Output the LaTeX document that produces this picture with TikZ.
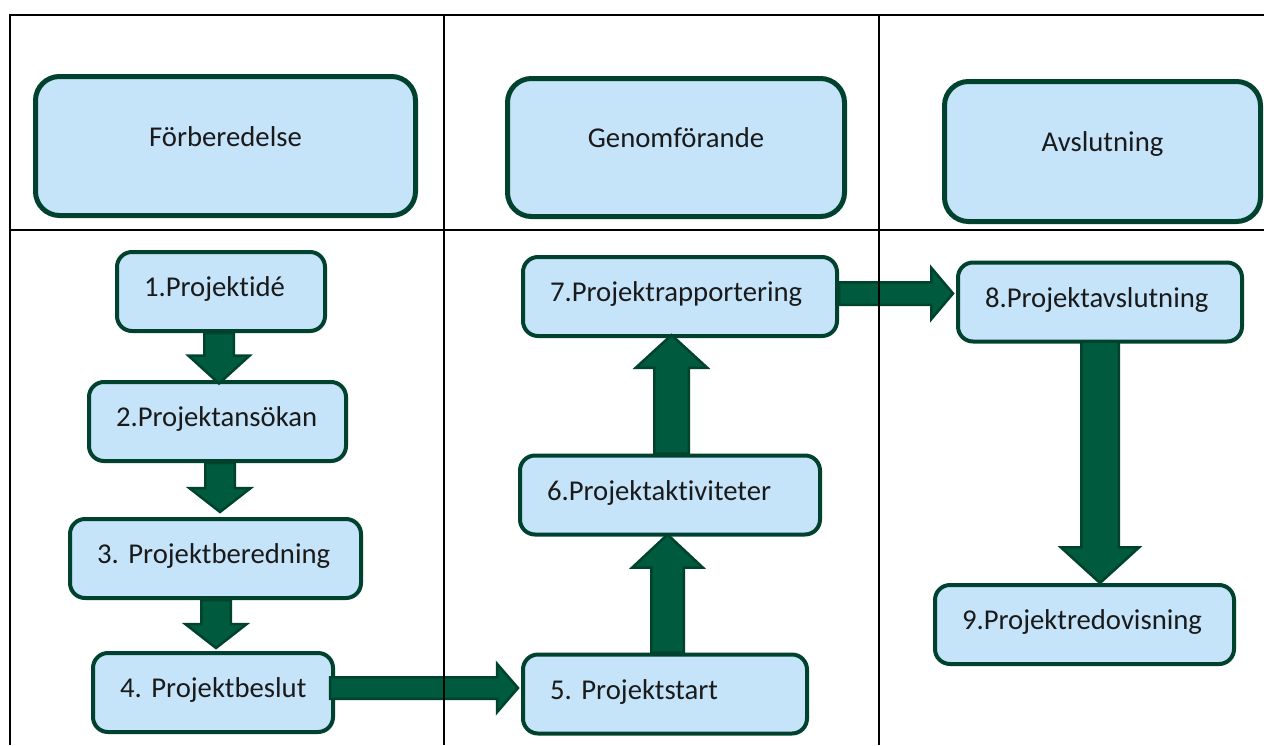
\documentclass[tikz,border=0pt]{standalone}
\usepackage{fontspec}
\setmainfont{Carlito}[Ligatures=NoCommon]
\usetikzlibrary{calc}

\definecolor{boxfill}{HTML}{C5E4F9}
\definecolor{boxline}{HTML}{00422E}
\definecolor{arrowfill}{HTML}{005A3D}
\definecolor{arrowline}{HTML}{00432D}
\definecolor{ink}{HTML}{1A1A1A}

\tikzset{
  txt/.style={font=\fontsize{28.7}{34}\selectfont\frenchspacing, text=ink},
  phase/.style={txt, draw=boxline, fill=boxfill, line width=5pt,
    rounded corners=24pt, inner sep=0pt, text height=10pt, text depth=10pt},
  stepbox/.style={txt, draw=boxline, fill=boxfill, line width=4pt,
    rounded corners=15pt, inner xsep=27pt, inner ysep=0pt, text width=#1,
    align=left, text height=44.5pt, text depth=34.5pt},
  fatarrow/.style={draw=arrowline, fill=arrowfill, line width=2.5pt, line join=miter},
  grid/.style={draw=black, line width=2pt},
}

% block arrow: #1 tail, #2 tip, #3 half shaft width, #4 half head width, #5 head length
\newcommand\blockarrow[5]{%
  \path (#1) coordinate (ba-t) (#2) coordinate (ba-p);
  \path ($(ba-p)!#5!(ba-t)$) coordinate (ba-h);
  \draw[fatarrow] ($(ba-t)!#3!90:(ba-p)$) -- ($(ba-h)!#3!90:(ba-p)$)
    -- ($(ba-h)!#4!90:(ba-p)$) -- (ba-p) -- ($(ba-h)!#4!-90:(ba-p)$)
    -- ($(ba-h)!#3!-90:(ba-p)$) -- ($(ba-t)!#3!-90:(ba-p)$) -- cycle;
}

\begin{document}
\begin{tikzpicture}[x=1pt,y=-1pt]
\useasboundingbox (0,0) rectangle (1264,745);

% phase headings
\node[phase, minimum width=380pt, minimum height=139pt] (h1) at (225.5,146) {Förberedelse};
\node[phase, minimum width=337pt, minimum height=138pt] (h2) at (676,147.5) {Genomförande};
\node[phase, minimum width=316pt, minimum height=140pt] (h3) at (1102.5,151.5) {Avslutning};

% process steps
\node[stepbox=154pt] (b1) at (221,291.5) {\mbox{1.Projektidé}};
\node[stepbox=203pt] (b2) at (217.5,421.5) {\mbox{2.Projektansökan}};
\node[stepbox=237pt] (b3) at (215.5,558.5) {\mbox{3. Projektberedning}};
\node[stepbox=186pt] (b4) at (213,692.5) {\mbox{4. Projektbeslut}};
\node[stepbox=230pt] (b5) at (665,694) {\mbox{5. Projektstart}};
\node[stepbox=246pt] (b6) at (670,495) {\mbox{6.Projektaktiviteter}};
\node[stepbox=260pt] (b7) at (680,296.5) {\mbox{7.Projektrapportering}};
\node[stepbox=230pt] (b8) at (1100,302) {\mbox{8.Projektavslutning}};
\node[stepbox=245pt] (b9) at (1084.5,624.5) {\mbox{9.Projektredovisning}};

% flow arrows
\blockarrow{$(b1.south)+(-2,0)$}{$(b2.north)+(1.5,3.5)$}{14.75pt}{30.75pt}{28pt}
\blockarrow{$(b2.south)+(2.5,0)$}{$(b3.north)+(4.5,-5)$}{14.75pt}{30.75pt}{24pt}
\blockarrow{$(b3.south)+(0.5,0)$}{$(b4.north)+(3,-3)$}{14.75pt}{30.75pt}{24pt}
\blockarrow{$(b4.east)+(-5,-4.5)$}{$(b5.west)+(-3,-6)$}{10.75pt}{24.25pt}{21pt}
\blockarrow{$(b5.north)+(2.5,0)$}{$(b6.south)+(-2.5,-2)$}{16.25pt}{35.25pt}{33pt}
\blockarrow{$(b6.north)+(1.5,0)$}{$(b7.south)+(-8.5,-3)$}{17.25pt}{35.75pt}{32.75pt}
\blockarrow{$(b7.east)+(0,-3)$}{$(b8.west)+(-3,-8.5)$}{11.25pt}{25.75pt}{21.75pt}
\blockarrow{$(b8.south)+(0,-2)$}{$(b9.north)+(15.5,0)$}{18.75pt}{39.25pt}{35.75pt}

% table rules
\draw[grid] (10,745) -- (10,15) -- (1264,15);
\draw[grid] (10,230) -- (1264,230);
\draw[grid] (444,15) -- (444,745);
\draw[grid] (879,15) -- (879,745);
\end{tikzpicture}
\end{document}
